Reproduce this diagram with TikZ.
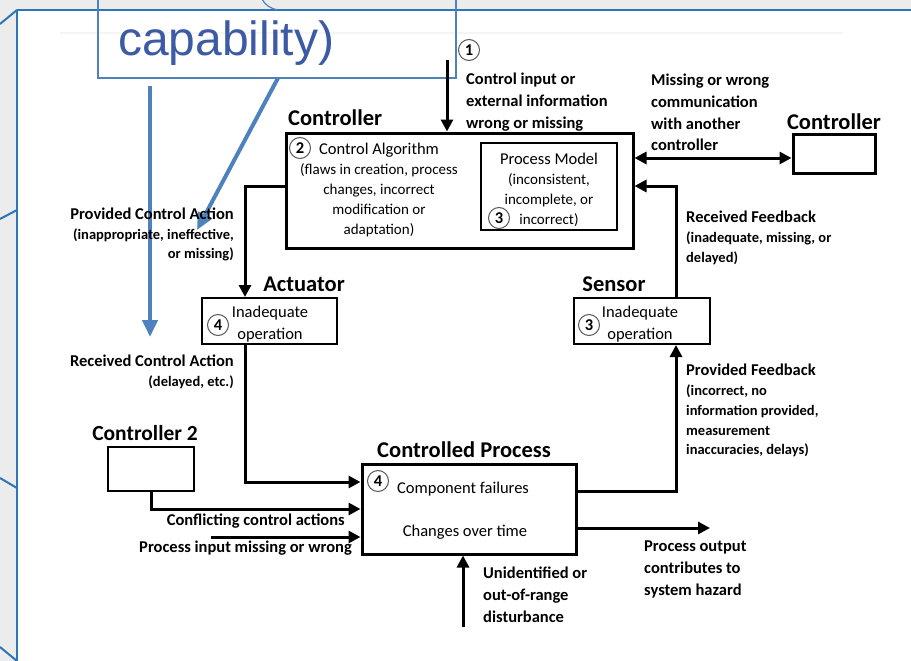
\documentclass[tikz,border=0pt]{standalone}
\usepackage{fontspec}
\setmainfont{Carlito}
\newfontfamily\capfont{Liberation Sans}
\usetikzlibrary{arrows.meta,calc}
\definecolor{frameblue}{RGB}{46,117,182}
\definecolor{arrblue}{RGB}{79,129,189}
\definecolor{txtblue}{RGB}{61,90,165}
\definecolor{bggray}{RGB}{236,236,236}
\newcommand\parenfont{\fontsize{14.5}{20}\selectfont}
\newcommand\innerparen{\fontsize{15}{19.5}\selectfont}
\begin{document}
\begin{tikzpicture}[x=1pt,y=-1pt,
  box/.style={draw, line width=3pt, inner sep=0pt, fill=white},
  sbox/.style={draw, line width=2pt, inner sep=0pt, fill=white},
  ttl/.style={font=\bfseries\fontsize{22.5}{24}\selectfont, inner sep=0pt},
  lbl/.style={font=\bfseries\fontsize{16.5}{22}\selectfont, inner sep=0pt},
  plbl/.style={font=\bfseries\fontsize{16.5}{#1}\selectfont, inner sep=0pt},
  sml/.style={font=\fontsize{16.5}{20}\selectfont, inner sep=0pt},
  num/.style={draw=black!65, line width=1pt, circle, inner sep=0pt, minimum size=21pt, font=\bfseries\fontsize{16.5}{16.5}\selectfont},
  conn/.style={line width=3pt, -{Triangle[length=12pt,width=12pt]}},
  dconn/.style={line width=3pt, {Triangle[length=12pt,width=12pt]}-{Triangle[length=12pt,width=12pt]}},
  barrow/.style={draw=arrblue, line width=4pt, -{Triangle[length=17pt,width=15pt]}}
]
\useasboundingbox (0,0) rectangle (911,661);
\fill[white] (0,0) rectangle (911,661);
\fill[bggray] (0,0) rectangle (911,10);
\fill[bggray] (0,0) rectangle (17,661);
\draw[gray!8, line width=2pt] (60,33) -- (843,33);

% blue frame
\draw[frameblue, line width=2.4pt] (17,10) -- (911,10);
\draw[frameblue, line width=2pt] (17,10) -- (17,661);
\draw[frameblue, line width=2pt] (17,10) -- (0,24);
\draw[frameblue, line width=2pt] (17,210) -- (0,219);
\draw[frameblue, line width=2pt] (17,488) -- (0,478);
\draw[frameblue, line width=2pt] (17,661) -- (0,647);

% capability callout
\node[draw=arrblue, line width=1.2pt, minimum width=358pt, minimum height=88pt, inner sep=0pt] (cap) at (277,34) {};
\node[font=\capfont\fontsize{48}{52}\selectfont, text=txtblue, anchor=base west, inner sep=0pt] (captxt) at (118,56) {capability)};
\draw[arrblue, line width=1.2pt] (262,-1) .. controls (265,5) and (270,8) .. (277,10);
\coordinate (bv) at (150,86);
\coordinate (bvend) at (150,337);
\draw[barrow] (bv) -- (bvend);
\coordinate (bd) at (278,78);
\coordinate (bdend) at (197,230);
\draw[barrow] (bd) -- (bdend);

% boxes
\node[box, minimum width=347pt, minimum height=115pt] (ctrl) at (459.5,190.5) {};
\node[sbox, minimum width=136pt, minimum height=87pt] (pm) at (549,186.5) {};
\node[box, minimum width=82pt, minimum height=39pt] (rctrl) at (834,153.5) {};
\node[sbox, minimum width=135pt, minimum height=46pt] (act) at (269.5,321) {};
\node[sbox, minimum width=136pt, minimum height=46pt] (sens) at (642,321) {};
\node[box, minimum width=214pt, minimum height=90pt] (proc) at (469,509) {};
\node[sbox, minimum width=86pt, minimum height=44pt] (c2) at (151,469) {};

% titles
\node[ttl, anchor=west] (tctrl) at (288,118) {Controller};
\node[ttl] (trctrl) at (834,122) {Controller};
\node[ttl] (tact) at (304,284) {Actuator};
\node[ttl] (tsens) at (614,284) {Sensor};
\node[ttl, font=\bfseries\fontsize{21.5}{24}\selectfont] (tc2) at (145,433) {Controller 2};
\node[ttl] (tproc) at (464,450) {Controlled Process};

% circled numbers
\node[num] (n1) at (469,50) {1};
\node[num] (n2) at (300,148) {2};
\node[num] (n3a) at (499,218) {3};
\node[num] (n3b) at (589,325) {3};
\node[num] (n4a) at (218,325) {4};
\node[num] (n4b) at (378,481) {4};

% inner texts
\node[sml, anchor=north, align=center] (alg) at (379,143) {Control Algorithm\\ \innerparen (flaws in creation, process\\ \innerparen changes, incorrect\\ \innerparen modification or\\ \innerparen adaptation)};
\node[sml, anchor=north, align=center] (pmt) at (549,153) {Process Model\\ \innerparen (inconsistent,\\ \innerparen incomplete, or\\ \innerparen incorrect)};
\node[sml, align=center, font=\fontsize{16.5}{22}\selectfont] (actt) at (270,324) {Inadequate\\operation};
\node[sml, align=center, font=\fontsize{16.5}{22}\selectfont] (senst) at (640,324) {Inadequate\\operation};
\node[sml, anchor=west] (cf) at (397,489) {Component failures};
\node[sml] (cot) at (465,532) {Changes over time};

% labels
\node[lbl, anchor=north west, align=left] (lin) at (466,73) {Control input or\\ external information\\ wrong or missing};
\node[plbl=21.7, anchor=north west, align=left] (lmis) at (651,74) {Missing or wrong\\ communication\\ with another\\ controller};
\node[plbl=20, anchor=north west, align=left] (lrf) at (686,211) {Received Feedback\\ \parenfont (inadequate, missing, or\\ \parenfont delayed)};
\node[plbl=19.5, anchor=north east, align=right] (lpca) at (234,208) {Provided Control Action\\ \parenfont (inappropriate, ineffective,\\ \parenfont or missing)};
\node[plbl=20, anchor=north east, align=right] (lrca) at (234,355) {Received Control Action\\ \parenfont (delayed, etc.)};
\node[plbl=19.75, anchor=north west, align=left] (lpf) at (686,364) {Provided Feedback\\ \parenfont (incorrect, no\\ \parenfont information provided,\\ \parenfont measurement\\ \parenfont inaccuracies, delays)};
\node[lbl, anchor=east] (lcca) at (345,521) {Conflicting control actions};
\node[lbl, anchor=east] (lpim) at (352,548) {Process input missing or wrong};
\node[lbl, anchor=north west, align=left] (lpo) at (644,541) {Process output\\ contributes to\\ system hazard};
\node[lbl, anchor=north west, align=left] (lud) at (483,567) {Unidentified or\\ out-of-range\\ disturbance};

% connectors
\coordinate (in1) at (447,60);
\draw[conn] (in1) -- (in1 |- ctrl.north);
\draw[dconn] (ctrl.east |- 0,158) -- (rctrl.west |- 0,158);
\draw[conn] (ctrl.west |- 0,186) -| (act.north -| 245,0);
\draw[conn] (act.south -| 245,0) |- (proc.west |- 0,482);
\draw[conn] (c2.south) |- (proc.west |- 0,509);
\coordinate (pin) at (211,537);
\draw[conn] (pin) -- (proc.west |- pin);
\draw[conn] (proc.east |- 0,491) -| (sens.south -| 676,0);
\draw[conn] (sens.north -| 676,0) |- (ctrl.east |- 0,186);
\coordinate (pout) at (710,528);
\draw[conn] (proc.east |- pout) -- (pout);
\coordinate (dist) at (463,627);
\draw[conn] (dist) -- (dist |- proc.south);
\end{tikzpicture}
\end{document}
